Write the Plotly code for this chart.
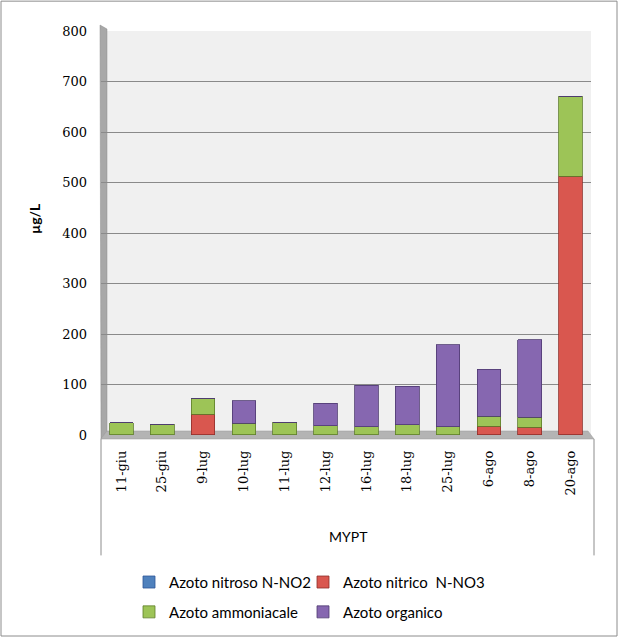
import plotly.graph_objects as go

# dati (µg/L)
categorie = ['11-giu', '25-giu', '9-lug', '10-lug', '11-lug', '12-lug',
             '16-lug', '18-lug', '25-lug', '6-ago', '8-ago', '20-ago']
nitroso = [0.5, 0.5, 0.5, 0.5, 0.5, 0.5, 0.5, 0.5, 0.5, 0.5, 0.5, 0.5]
nitrico = [0, 0, 41, 0, 0, 0, 0, 0, 0, 17, 15, 512]
ammoniacale = [24, 21, 30, 23, 25, 18, 16, 20, 16, 20, 20, 158]
organico = [0, 0, 0, 44, 0, 44, 82, 76, 162, 93, 153, 0]
y_ticks = [0, 100, 200, 300, 400, 500, 600, 700, 800]

# area del grafico in pixel
L, R, T, B = 101, 591, 31, 437
W, H = R - L, B - T


def px(x):
    return (x - L) / W


def py(y):
    return (B - y) / H


def poly(pts):
    return 'M ' + ' L '.join(f'{px(x):.4f},{py(y):.4f}' for x, y in pts) + ' Z'


# nome, valori, colore, bordo, legenda, posizione legenda (pixel)
serie = [
    ('Azoto nitroso N-NO2', nitroso, '#4F81BD', '#2F5597', 'legend', (129, 585)),
    ('Azoto nitrico  N-NO3', nitrico, '#D9574F', '#8E2F2A', 'legend2', (303, 585)),
    ('Azoto ammoniacale', ammoniacale, '#9DC457', '#5E7D2A', 'legend3', (129, 615)),
    ('Azoto organico', organico, '#8667B0', '#4E3A70', 'legend4', (303, 615)),
]

fig = go.Figure()
legende = {}
for nome, valori, col, bordo, leg, (lx, ly) in serie:
    fig.add_trace(go.Bar(
        x=categorie, y=valori, name=nome, legend=leg, showlegend=True,
        marker=dict(color=col, line=dict(color=bordo, width=0.8)),
    ))
    legende[leg] = dict(orientation='h', x=px(lx), y=py(ly), xanchor='left', yanchor='middle',
                        font=dict(family='Lato', size=15, color='black'),
                        bgcolor='rgba(0,0,0,0)')

shapes = [
    # parete sinistra
    dict(type='path', xref='paper', yref='paper', layer='below',
         path=poly([(100, 25), (107, 29), (107, 433), (101, 441)]),
         fillcolor='#A8A8A8', line=dict(color='#8C8C8C', width=0.5)),
    # pavimento
    dict(type='path', xref='paper', yref='paper', layer='below',
         path=poly([(101, 441), (107, 433), (588, 433), (594, 441)]),
         fillcolor='#B4B4B4', line=dict(color='#9A9A9A', width=0.5)),
    # riquadro categorie
    dict(type='line', xref='paper', yref='paper',
         x0=px(101), x1=px(101), y0=py(441), y1=py(558),
         line=dict(color='#8C8C8C', width=1)),
    dict(type='line', xref='paper', yref='paper',
         x0=px(594), x1=px(594), y0=py(441), y1=py(558),
         line=dict(color='#8C8C8C', width=1)),
    # bordo esterno
    dict(type='rect', xref='paper', yref='paper',
         x0=px(1), x1=px(617), y0=py(1), y1=py(639),
         line=dict(color='#8C8C8C', width=1)),
]

fig.update_layout(
    width=619, height=641,
    margin=dict(l=L, r=619 - R, t=T, b=641 - B),
    barmode='stack', bargap=0.42,
    plot_bgcolor='#F0F0F0', paper_bgcolor='white',
    showlegend=True,
    shapes=shapes,
    annotations=[
        dict(text='<b>µg/L</b>', xref='paper', yref='paper', x=px(34), y=py(220),
             xanchor='center', yanchor='middle',
             showarrow=False, textangle=-90, font=dict(family='Lato', size=14, color='black')),
        dict(text='MYPT', xref='paper', yref='paper', x=px(348), y=py(539),
             xanchor='center', yanchor='middle',
             showarrow=False, font=dict(family='Lato', size=14, color='black')),
    ],
    **legende,
)

fig.update_xaxes(
    tickangle=-90, ticklabelstandoff=12, showline=False, showgrid=False,
    tickfont=dict(family='DejaVu Serif', size=13, color='black'),
)
fig.update_yaxes(
    range=[0, 800], tickvals=y_ticks, showgrid=True, gridcolor='#8A8A8A', gridwidth=1,
    zeroline=False, showline=False, ticklabelstandoff=13,
    tickfont=dict(family='DejaVu Serif', size=13, color='black'),
)

fig.write_html('out.html', config={'displayModeBar': False},
               post_script="document.body.style.margin='0';")
